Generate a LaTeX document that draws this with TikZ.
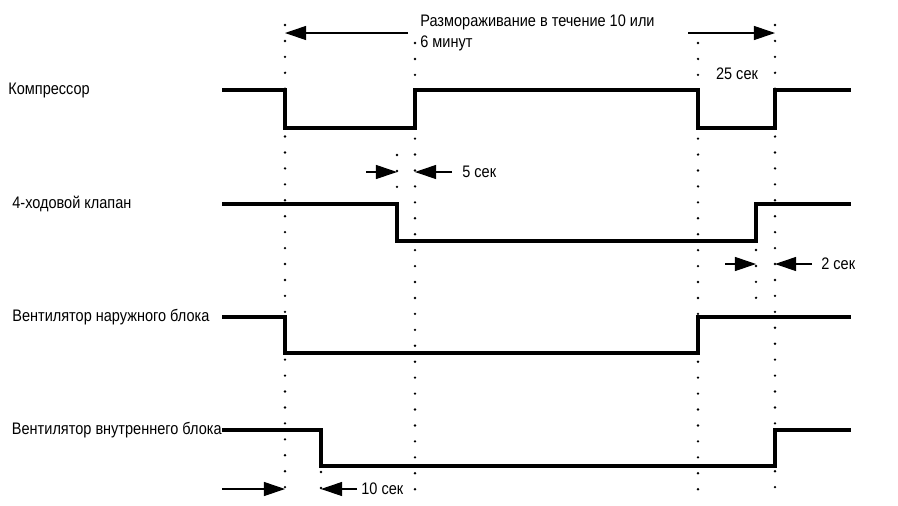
\documentclass[tikz,border=0pt]{standalone}
\usepackage{fontspec}
\setmainfont{Liberation Sans}[FakeStretch=0.87]
\usetikzlibrary{arrows.meta}
\begin{document}
\begin{tikzpicture}[x=0.02cm, y=-0.02cm,
    signal/.style={line width=1.8pt, line join=miter},
    guide/.style={line width=1.5pt, line cap=round, dash pattern=on 0pt off 9.07pt},
    dimarrow/.style={-{Triangle[length=12pt, width=8pt]}, line width=0.6pt},
    lbl/.style={inner sep=0pt, font=\fontsize{9.5}{12}\selectfont}
]
\useasboundingbox (0,0) rectangle (898,505);

% Signal names
\node[lbl, anchor=west] (comp) at (8,90) {Компрессор};
\node[lbl, anchor=west] (valve) at (12,204) {4-ходовой клапан};
\node[lbl, anchor=west] (fanout) at (12,317) {Вентилятор наружного блока};
\node[lbl, anchor=east] (fanin) at (222,430) {Вентилятор внутреннего блока};

% Signals
\draw[signal] (222,90) -- (285,90) -- (285,128) -- (415,128) -- (415,90)
    -- (698,90) -- (698,128) -- (775,128) -- (775,90) -- (851,90);
\draw[signal] (222,204) -- (397,204) -- (397,241) -- (756,241) -- (756,204) -- (851,204);
\draw[signal] (222,317) -- (285,317) -- (285,353) -- (698,353) -- (698,317) -- (851,317);
\draw[signal] (fanin.east) -- (321,430) -- (321,466) -- (775,466) -- (775,430) -- (851,430);

% Dotted guides
\foreach \x/\top in {285/25, 415/43, 698/43, 775/25}
    \draw[guide] (\x,\top) -- (\x,498);
\draw[guide] (397,155) -- (397,190);
\draw[guide] (756,250) -- (756,300);
\draw[guide] (321,472) -- (321,495);

% Defrost time
\node[lbl, anchor=north west, align=left] (defrost) at (420,14)
    {Размораживание в течение 10 или\\6 минут};
\coordinate (dl) at (408,33);
\coordinate (dr) at (688,33);
\draw[dimarrow] (dl) -- (285,33);
\draw[dimarrow] (dr) -- (775,33);
\node[lbl] (t25) at (737,74) {25 сек};

% Delays
\draw[dimarrow] (366,172) -- (397,172);
\draw[dimarrow] (452,172) -- (415,172);
\node[lbl, anchor=west] (t5) at (462,172) {5 сек};

\draw[dimarrow] (725,264) -- (756,264);
\draw[dimarrow] (812,264) -- (775,264);
\node[lbl, anchor=west] (t2) at (821,264) {2 сек};

\draw[dimarrow] (222,489) -- (285,489);
\draw[dimarrow] (357,489) -- (321,489);
\node[lbl, anchor=west] (t10) at (361,489) {10 сек};
\end{tikzpicture}
\end{document}
